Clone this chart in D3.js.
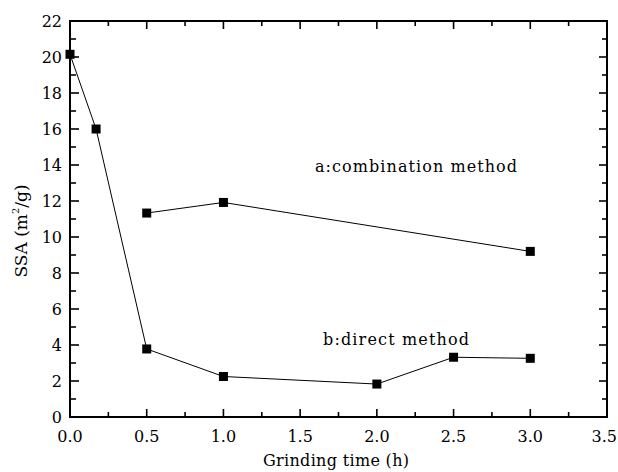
<html>
<head>
<title>SSA vs grinding time</title>
<script src="https://cdn.jsdelivr.net/npm/d3@7"></script>
<style>
  * { margin: 0; padding: 0; }
  body { background: #fff; }
</style>
</head>
<body>
<div id="chart"></div>
<script>
// data
var directTime = [0, 0.17, 0.5, 1.0, 2.0, 2.5, 3.0];
var directSSA = [20.15, 16.0, 3.78, 2.25, 1.83, 3.32, 3.26];
var comboTime = [0.5, 1.0, 3.0];
var comboSSA = [11.33, 11.92, 9.2];
var xTicks = [0, 0.5, 1.0, 1.5, 2.0, 2.5, 3.0, 3.5];
var yTicks = [0, 2, 4, 6, 8, 10, 12, 14, 16, 18, 20, 22];

(function() {
  var W = 618, H = 472;
  var pl = 70, pr = 607, pt = 21, pb = 417;
  var font = "'DejaVu Serif', 'Liberation Serif', serif";

  var svg = d3.select('#chart').append('svg')
      .attr('width', W).attr('height', H)
      .style('font-family', font);

  var x = d3.scaleLinear().domain([0, 3.5]).range([pl, pr]);
  var y = d3.scaleLinear().domain([0, 22]).range([pb, pt]);

  var xMinor = d3.range(0.25, 3.5, 0.5);
  var yMinor = d3.range(1, 22, 2);

  // ticks, all pointing inward
  function ticks(vals, len, side) {
    var horiz = side == 'b' || side == 't';
    svg.append('g').selectAll('line').data(vals).enter().append('line')
      .attr('x1', function(d) { return horiz ? x(d) : (side == 'l' ? pl : pr); })
      .attr('x2', function(d) { return horiz ? x(d) : (side == 'l' ? pl + len : pr - len); })
      .attr('y1', function(d) { return horiz ? (side == 'b' ? pb : pt) : y(d); })
      .attr('y2', function(d) { return horiz ? (side == 'b' ? pb - len : pt + len) : y(d); })
      .attr('stroke', '#000').attr('stroke-width', 1.6);
  }
  ticks(xTicks.slice(1, -1), 8, 'b');
  ticks(xTicks.slice(1, -1), 8, 't');
  ticks(xMinor, 5, 'b');
  ticks(xMinor, 5, 't');
  ticks(yTicks.slice(1, -1), 9, 'l');
  ticks(yTicks.slice(1, -1), 8, 'r');
  ticks(yMinor, 6, 'l');
  ticks(yMinor, 5, 'r');

  svg.append('rect')
    .attr('x', pl).attr('y', pt)
    .attr('width', pr - pl).attr('height', pb - pt)
    .attr('fill', 'none').attr('stroke', '#000').attr('stroke-width', 2);

  // tick labels (last one kept inside the window)
  var last = xTicks[xTicks.length - 1];
  svg.append('g').selectAll('text').data(xTicks).enter().append('text')
    .attr('x', function(d) { return d === last ? W - 1 : x(d); })
    .attr('y', 442)
    .attr('text-anchor', function(d) { return d === last ? 'end' : 'middle'; })
    .attr('font-size', 16)
    .text(function(d) { return d.toFixed(1); });

  svg.append('g').selectAll('text').data(yTicks).enter().append('text')
    .attr('x', 62)
    .attr('y', function(d) { return y(d) + 6; })
    .attr('text-anchor', 'end')
    .attr('font-size', 16)
    .text(function(d) { return d; });

  // axis titles
  svg.append('text')
    .attr('x', 336).attr('y', 466)
    .attr('text-anchor', 'middle')
    .attr('font-size', 16)
    .attr('textLength', 146)
    .text('Grinding time (h)');

  var yt = svg.append('text')
    .attr('transform', 'translate(27,231) rotate(-90)')
    .attr('text-anchor', 'middle')
    .attr('font-size', 17);
  yt.append('tspan').text('SSA\u00a0(m');
  yt.append('tspan').attr('font-size', 10).attr('dy', -8).text('2');
  yt.append('tspan').attr('dy', 8).text('/g)');

  // series
  var line = d3.line()
    .x(function(d) { return x(d[0]); })
    .y(function(d) { return y(d[1]); });

  function series(xs, ys) {
    var pts = d3.zip(xs, ys);
    var g = svg.append('g');
    g.append('path').datum(pts)
      .attr('d', line)
      .attr('fill', 'none').attr('stroke', '#000').attr('stroke-width', 1);
    g.selectAll('rect').data(pts).enter().append('rect')
      .attr('x', function(d) { return x(d[0]) - 4.5; })
      .attr('y', function(d) { return y(d[1]) - 4.5; })
      .attr('width', 9).attr('height', 9)
      .attr('fill', '#000');
  }
  series(directTime, directSSA);
  series(comboTime, comboSSA);

  // labels
  svg.append('text')
    .attr('x', 315).attr('y', 172)
    .attr('font-size', 16)
    .attr('textLength', 202)
    .text('a:combination method');
  svg.append('text')
    .attr('x', 323).attr('y', 345)
    .attr('font-size', 16)
    .attr('textLength', 146)
    .text('b:direct method');
})();
</script>
</body>
</html>
